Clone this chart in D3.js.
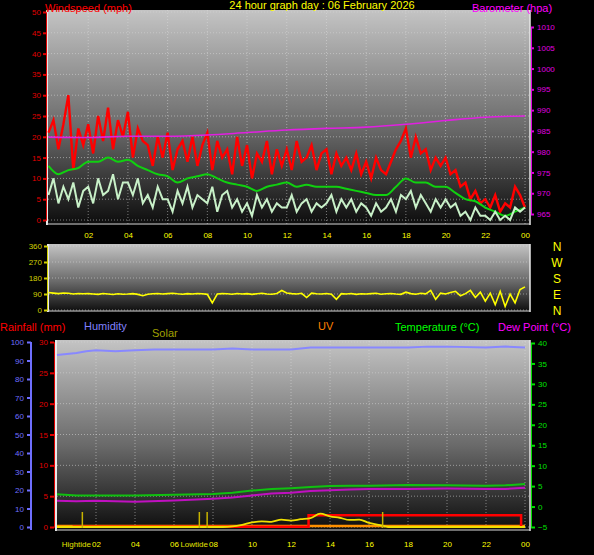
<!DOCTYPE html>
<html><head><meta charset="utf-8">
<script src="https://cdn.jsdelivr.net/npm/d3@7"></script>
<style>body{margin:0;background:#000}svg{display:block}text{font-family:"Liberation Sans",Arial,sans-serif}</style>
</head><body><svg id="c" width="594" height="555"></svg>
<script>
const hourTicks=[2,4,6,8,10,12,14,16,18,20,22,24];
const windTicks=[0,5,10,15,20,25,30,35,40,45,50];
const baroTicks=[965,970,975,980,985,990,995,1000,1005,1010];
const dirTicks=[0,90,180,270,360];
const dirLetters=["N","W","S","E","N"];
// every 15 minutes
const gust=[21,24,17,23, 30,12,22,18, 23,16,25,19, 27,17,24,20, 26,15,22,19, 18,13,20,15, 21,12,17,19, 14,20,13,18,
 21,12,19,15, 17,11,20,13, 18,10,16,14, 19,11,17,13, 17,12,19,14, 15,18,12,16, 17,11,16,13, 15,12,16,11,
 14,10,15,12, 11,14,17,19, 22,15,20,16, 17,12,15,13, 15,11,12,8, 9,5,7,4, 5,3,6,2, 4,3,8,6, 3];
const speed=[6,10,4,8, 5,9,3,7, 8,4,10,6, 7,11,5,9, 9,6,10,4, 6,3,8,5, 5,2,7,4, 8,3,6,5,
 4,8,2,6, 7,3,5,2, 4,1,6,3, 5,2,4,3, 3,6,2,4, 5,2,4,3, 4,6,2,5, 3,5,2,4,
 3,1,4,2, 3,5,2,6, 5,7,3,6, 4,2,5,3, 5,3,4,1, 2,0,3,1, 1,0,2,0, 1,0,3,2, 3];
// every 30 minutes
const avgWind=[13,11,12,12.5,14,14,15,14,14.5,13,12,11,10.5,9,10,10.5,11,10,9,8.5,8,7,8,8.5,
 9,8,8.5,8,8,8,7.5,7,6.5,6,6,8,10,9,9,8,8,6.5,5,4.5,3,2,1,2,3];
const baroHours=[0,2,4,6,8,10,12,14,16,18,20,22,24];
const baro=[983.5,983.4,983.7,983.7,984.0,984.6,985.2,985.6,985.9,986.6,987.5,988.3,988.6];
const windDir=[98,95,92,96,94,90,93,91,92,90,88,93,90,87,91,89,90,92,88,80,89,91,93,90,92,94,91,89,92,90,93,91,
 88,40,90,92,91,89,93,90,92,88,91,94,90,89,93,110,96,92,90,94,70,95,91,90,93,89,60,92,90,93,88,91,
 90,92,94,89,91,93,90,88,100,92,89,94,91,110,60,95,90,98,105,80,92,110,70,100,50,95,30,105,20,90,40,115,130];
const humHours=[0,1,1.5,2,3,4,5,6,8,9,10,12,13,14,16,18,19,20,22,23,24];
const humidity=[93,94,95,95.5,95,95.5,96,96,96,96.5,96,96,97,97,97,97,97.5,97.5,97,97.5,97];
const tHours=[0,1,2,4,6,8,9,10,11,12,13,14,15,16,18,20,22,23,24];
const temperature=[3.0,2.7,2.7,2.7,2.9,3.1,3.4,3.9,4.3,4.5,4.8,5.0,5.1,5.1,5.3,5.2,5.1,5.2,5.5];
const dewPoint=[1.4,1.3,1.4,1.2,1.5,1.9,2.2,2.7,3.2,3.4,3.8,4.0,4.2,4.3,4.3,4.4,4.3,4.3,4.6];
const rainHours=[0.8,12.9,12.9,23.8,23.8];
const rain=[0.05,0.05,1.9,1.9,0];
const solarHours=[0,8.5,9,9.5,10,10.5,11,11.5,12,12.5,13,13.5,14,14.5,15,15.5,16,16.5,17,24];
const solar=[0,0,3,12,25,30,28,40,35,42,48,72,58,50,38,40,22,12,0,0];
const tideHours=[1.3,7.3,7.7,16.7];

const svg=d3.select("#c");
const defs=svg.append("defs");
const g=defs.append("linearGradient").attr("id","bg").attr("x1",0).attr("x2",0).attr("y1",0).attr("y2",1);
g.append("stop").attr("offset","0%").attr("stop-color","#c4c4c4");
g.append("stop").attr("offset","55%").attr("stop-color","#6a6a6a");
g.append("stop").attr("offset","100%").attr("stop-color","#0c0c0c");

function panel(x0,x1,y0,y1){
  svg.append("rect").attr("x",x0).attr("y",y0).attr("width",x1-x0).attr("height",y1-y0).attr("fill","url(#bg)");
  svg.append("line").attr("x1",x0).attr("x2",x0).attr("y1",y0).attr("y2",y1).attr("stroke","#e8e8e8").attr("stroke-width",2);
  svg.append("line").attr("x1",x1).attr("x2",x1).attr("y1",y0).attr("y2",y1).attr("stroke","#e8e8e8").attr("stroke-width",1.5);
  svg.append("line").attr("x1",x0).attr("x2",x1).attr("y1",y1-1).attr("y2",y1-1).attr("stroke","#d0d0d0").attr("stroke-width",1);
}
function hgrid(vals,y,x0,x1){svg.append("g").selectAll("line").data(vals).join("line").attr("x1",x0).attr("x2",x1)
  .attr("y1",d=>y(d)).attr("y2",d=>y(d)).attr("stroke","#d8d8d8").attr("stroke-opacity",0.55).attr("stroke-dasharray","1,2");}
function vgrid(x,y0,y1){svg.append("g").selectAll("line").data(hourTicks).join("line").attr("x1",d=>x(d)).attr("x2",d=>x(d))
  .attr("y1",y0).attr("y2",y1).attr("stroke","#e0e0e0").attr("stroke-opacity",0.5).attr("stroke-dasharray","1,2");}
function styleAxis(sel,col,fs){sel.select(".domain").attr("stroke",col);sel.selectAll(".tick line").attr("stroke",col).attr("stroke-width",2);
  sel.selectAll("text").attr("fill",col).style("font-size",fs+"px");}
function txt(x,y,s,col,fs,anchor){svg.append("text").attr("x",x).attr("y",y).attr("fill",col).style("font-size",(fs||11)+"px")
  .attr("text-anchor",anchor||"start").text(s);}
const hfmt=d=>d3.format("02")(d%24);

// ---------- top panel
const xT=d3.scaleLinear([0,24],[48.5,525]);
const yW=d3.scaleLinear([0,50],[220,12]);
const yB=d3.scaleLinear([965,1010],[214,27]);
panel(47,530,10,225);
hgrid(windTicks,yW,48,530); vgrid(xT,10,224);
const q=i=>i*0.25, h=i=>i*0.5;
const line=(xs,ys)=>d3.line().x(d=>xs(d[0])).y(d=>ys(d[1]));
svg.append("path").attr("d",line(xT,yW)(gust.map((v,i)=>[q(i),v]))).attr("fill","none").attr("stroke","#ff0000").attr("stroke-width",2.4);
svg.append("path").attr("d",line(xT,yW).curve(d3.curveMonotoneX)(avgWind.map((v,i)=>[h(i),v]))).attr("fill","none").attr("stroke","#10d010").attr("stroke-width",2);
svg.append("path").attr("d",line(xT,yW)(speed.map((v,i)=>[q(i),v]))).attr("fill","none").attr("stroke","#c8f0c8").attr("stroke-width",2);
svg.append("path").attr("d",d3.line().x((d,i)=>xT(baroHours[i])).y(d=>yB(d)).curve(d3.curveMonotoneX)(baro)).attr("fill","none").attr("stroke","#e020e0").attr("stroke-width",1.6);
styleAxis(svg.append("g").attr("transform","translate(46,0)").call(d3.axisLeft(yW).tickValues(windTicks).tickSize(3).tickPadding(2)),"#e00000",8);
styleAxis(svg.append("g").attr("transform","translate(531,0)").call(d3.axisRight(yB).tickValues(baroTicks).tickFormat(d3.format("d")).tickSize(3).tickPadding(3)),"#e000e0",8);
const axT=svg.append("g").attr("transform","translate(0,229)").call(d3.axisBottom(xT).tickValues(hourTicks).tickFormat(hfmt).tickSize(0));
styleAxis(axT,"#ffff00",8); axT.select(".domain").remove();
txt(45,12,"Windspeed (mph)","#ff0000",11);
txt(322,9,"24 hour graph day : 06 February 2026","#ffff00",11,"middle");
txt(472,12,"Barometer (hpa)","#ff00ff",11);

// ---------- middle panel
const yD=d3.scaleLinear([0,360],[310,246]);
panel(48,530,244,312);
hgrid(dirTicks,yD,49,530);
svg.append("path").attr("d",line(xT,yD)(windDir.map((v,i)=>[q(i),v]))).attr("fill","none").attr("stroke","#ffff00").attr("stroke-width",1.6);
styleAxis(svg.append("g").attr("transform","translate(47,0)").call(d3.axisLeft(yD).tickValues(dirTicks).tickSize(3).tickPadding(2)),"#d0d000",8);
dirLetters.forEach((l,i)=>txt(557,yD(dirTicks[4-i])+5,l,"#ffff00",12,"middle"));

// ---------- bottom panel
const xB=d3.scaleLinear([0,24],[57,525]);
const yR=d3.scaleLinear([0,30],[527,342]);
const yH=d3.scaleLinear([0,100],[527,342]);
const yTe=d3.scaleLinear([-5,40],[527,343]);
const yS=d3.scaleLinear([0,1000],[527,342]);
panel(56,530,340,531);
hgrid([0,5,10,15,20,25,30],yR,57,530); vgrid(xB,341,530);
svg.append("path").attr("d",d3.area().x((d,i)=>xB(solarHours[i])).y0(527).y1(d=>yS(d*0.15))(solar)).attr("fill","#a05010").attr("opacity",0.8);
svg.append("line").attr("x1",xB(0)).attr("x2",xB(24)).attr("y1",526).attr("y2",526).attr("stroke","#ff9000").attr("stroke-width",2.5);
svg.append("path").attr("d",d3.line().x((d,i)=>xB(rainHours[i])).y(d=>yR(d))(rain)).attr("fill","none").attr("stroke","#ff0000").attr("stroke-width",2.5);
svg.append("path").attr("d",d3.line().x((d,i)=>xB(solarHours[i])).y(d=>yS(d)).curve(d3.curveMonotoneX)(solar)).attr("fill","none").attr("stroke","#f0e000").attr("stroke-width",1.8);
svg.append("g").selectAll("line").data(tideHours).join("line").attr("x1",d=>xB(d)).attr("x2",d=>xB(d)).attr("y1",512).attr("y2",528).attr("stroke","#c8b400").attr("stroke-width",1.5);
svg.append("path").attr("d",d3.line().x((d,i)=>xB(humHours[i])).y(d=>yH(d))(humidity)).attr("fill","none").attr("stroke","#8888ff").attr("stroke-width",2);
svg.append("path").attr("d",d3.line().x((d,i)=>xB(tHours[i])).y(d=>yTe(d))(temperature)).attr("fill","none").attr("stroke","#10c010").attr("stroke-width",2);
svg.append("path").attr("d",d3.line().x((d,i)=>xB(tHours[i])).y(d=>yTe(d))(dewPoint)).attr("fill","none").attr("stroke","#c010c0").attr("stroke-width",2);
styleAxis(svg.append("g").attr("transform","translate(31,0)").call(d3.axisLeft(yH).ticks(10).tickSize(4).tickPadding(3)),"#6f6fff",8);
svg.append("line").attr("x1",31).attr("x2",31).attr("y1",342).attr("y2",530).attr("stroke","#6f6fff").attr("stroke-width",2);
styleAxis(svg.append("g").attr("transform","translate(54,0)").call(d3.axisLeft(yR).tickValues([0,5,10,15,20,25,30]).tickSize(4).tickPadding(2)),"#e00000",8);
styleAxis(svg.append("g").attr("transform","translate(531,0)").call(d3.axisRight(yTe).tickValues([-5,0,5,10,15,20,25,30,35,40]).tickSize(4).tickPadding(3)),"#00e000",8);
const axB=svg.append("g").attr("transform","translate(0,538)").call(d3.axisBottom(xB).tickValues(hourTicks).tickFormat(hfmt).tickSize(0));
styleAxis(axB,"#ffff00",8); axB.select(".domain").remove();
txt(xB(2)-5,547,"Hightide","#e0e000",8,"end");
txt(xB(8)-5,547,"Lowtide","#e0e000",8,"end");
txt(0,331,"Rainfall (mm)","#ff0000",11);
txt(84,330,"Humidity","#8080ff",11);
txt(152,337,"Solar","#a0a000",11);
txt(318,330,"UV","#ff8000",11);
txt(395,331,"Temperature (°C)","#00ff00",11);
txt(498,331,"Dew Point (°C)","#ff00ff",11);
</script></body></html>
